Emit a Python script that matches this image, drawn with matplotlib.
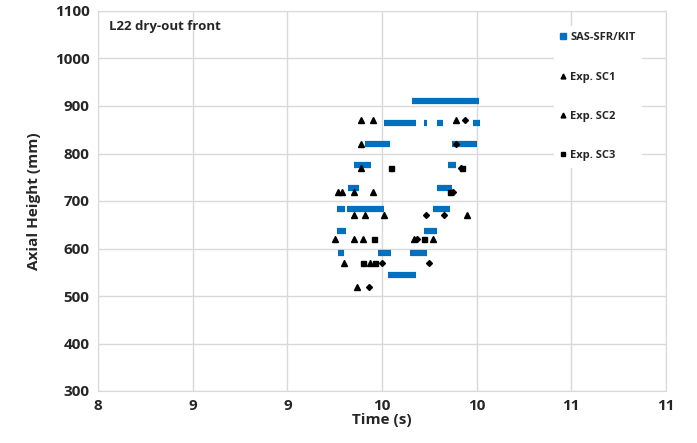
import matplotlib
matplotlib.use('Agg')
import matplotlib.pyplot as plt
from matplotlib.lines import Line2D

# Datos
sas_h = [910, 865, 865, 865, 865, 820, 820, 775, 775, 728, 728,
         683, 683, 683, 636, 636, 590, 590, 590, 545]
sas_t0 = [9.66, 9.51, 9.72, 9.79, 9.98, 9.41, 9.87, 9.35, 9.85, 9.32, 9.79,
          9.26, 9.315, 9.77, 9.26, 9.72, 9.27, 9.48, 9.65, 9.53]
sas_t1 = [10.01, 9.68, 9.74, 9.82, 10.02, 9.54, 10.00, 9.44, 9.89, 9.38, 9.87,
          9.305, 9.51, 9.86, 9.31, 9.79, 9.30, 9.55, 9.74, 9.68]

sc1_t = [9.39, 9.45, 9.89, 9.39, 9.39, 9.27, 9.29, 9.35, 9.45, 9.35, 9.41,
         9.51, 9.95, 9.25, 9.35, 9.40, 9.67, 9.77, 9.30, 9.435, 9.37]
sc1_h = [870, 870, 870, 820, 770, 720, 720, 720, 720, 670, 670,
         670, 670, 620, 620, 620, 620, 620, 570, 570, 520]

sc2_t = [9.94, 9.89, 9.915, 9.875, 9.73, 9.83, 9.685, 9.50, 9.75, 9.43]
sc2_h = [870, 820, 770, 720, 670, 670, 620, 570, 570, 520]

sc3_t = [9.55, 9.925, 9.86, 9.46, 9.72, 9.40, 9.465]
sc3_h = [770, 770, 720, 620, 620, 570, 570]

x_ticks = [8, 8.5, 9, 9.5, 10, 10.5, 11]
x_labels = ['8', '9', '9', '10', '10', '11', '11']
y_ticks = list(range(300, 1101, 100))

blue = '#0070C0'
grid_c = '#D9D9D9'
txt_c = '#262626'

plt.rcParams['font.family'] = ['Open Sans', 'DejaVu Sans']

fig = plt.figure(figsize=(6.97, 4.43), dpi=100)
ax = fig.add_axes([98/697, 52/443, 568/697, 380/443])

# Simulacion SAS-SFR/KIT (segmentos horizontales)
ax.hlines(sas_h, sas_t0, sas_t1, color=blue, linewidth=4.5, zorder=3)

# Experimentos
ax.plot(sc1_t, sc1_h, linestyle='none', marker='^', color='black', markersize=3.8, zorder=4)
ax.plot(sc2_t, sc2_h, linestyle='none', marker='D', color='black', markersize=3.0, zorder=4)
ax.plot(sc3_t, sc3_h, linestyle='none', marker='s', color='black', markersize=3.6, zorder=4)

ax.set_xlim(8, 11)
ax.set_ylim(300, 1100)
ax.set_xticks(x_ticks)
ax.set_xticklabels(x_labels)
ax.set_yticks(y_ticks)
ax.grid(True, color=grid_c, linewidth=1)
ax.set_axisbelow(True)
for s in ax.spines.values():
    s.set_color(grid_c)
ax.tick_params(length=0, labelsize=11, colors=txt_c, pad=6)
for lab in ax.get_xticklabels() + ax.get_yticklabels():
    lab.set_fontweight('bold')

ax.set_xlabel('Time (s)', fontsize=11, fontweight='bold', color=txt_c, labelpad=0)
ax.set_ylabel('Axial Height (mm)', fontsize=11, fontweight='bold', color=txt_c, labelpad=10)

ax.text(0.02, 0.96, 'L22 dry-out front', transform=ax.transAxes, fontsize=9.5,
        fontweight='bold', color=txt_c, va='center', ha='left')

handles = [
    Line2D([], [], linestyle='none', marker='s', color=blue, markersize=4),
    Line2D([], [], linestyle='none', marker='^', color='black', markersize=3.5),
    Line2D([], [], linestyle='none', marker='^', color='black', markersize=3.5),
    Line2D([], [], linestyle='none', marker='s', color='black', markersize=3.5),
]
labels = ['SAS-SFR/KIT', 'Exp. SC1', 'Exp. SC2', 'Exp. SC3']
leg = fig.legend(handles, labels, loc='upper left', bbox_to_anchor=(548/697, 1 - 20/443),
                 frameon=True, labelspacing=2.55, handlelength=0.5,
                 handletextpad=0.4, borderpad=0.6, prop={'weight': 'bold', 'size': 8})
leg.get_frame().set_facecolor('white')
leg.get_frame().set_edgecolor('none')
leg.get_frame().set_alpha(1)
for t in leg.get_texts():
    t.set_color(txt_c)

fig.savefig('out.png', dpi=100)
